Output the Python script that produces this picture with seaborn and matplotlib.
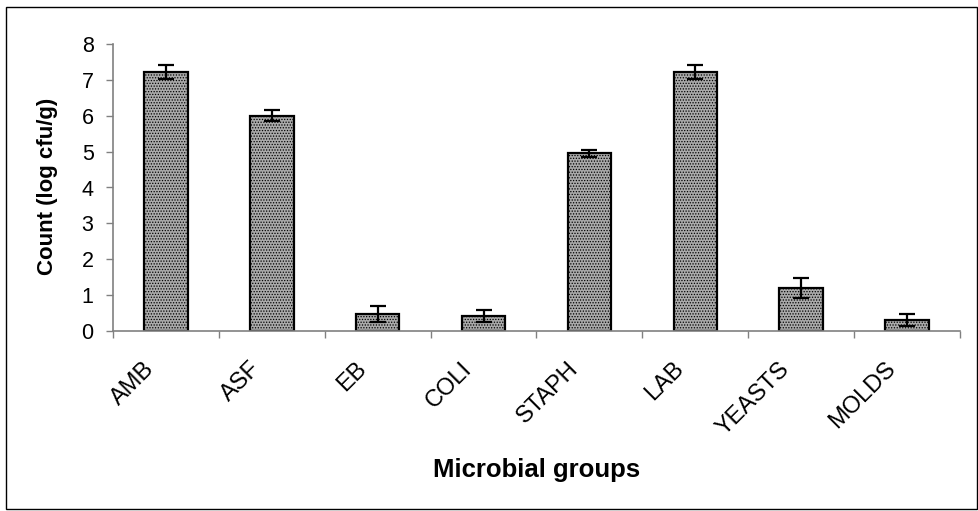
import matplotlib
matplotlib.use('Agg')
import matplotlib.pyplot as plt
import matplotlib.transforms as mtransforms
import seaborn as sns
import pandas as pd
from matplotlib.ticker import FixedLocator

groups = ['AMB', 'ASF', 'EB', 'COLI', 'STAPH', 'LAB', 'YEASTS', 'MOLDS']
counts = [7.22, 6.00, 0.47, 0.42, 4.95, 7.22, 1.20, 0.31]
errors = [0.20, 0.16, 0.22, 0.16, 0.10, 0.20, 0.27, 0.16]

df = pd.DataFrame({'group': groups, 'count': counts})

sns.set_style('white')
plt.rcParams['font.family'] = ['Liberation Sans', 'DejaVu Sans']
plt.rcParams['text.color'] = 'black'
plt.rcParams['axes.labelcolor'] = 'black'
plt.rcParams['xtick.labelcolor'] = 'black'
plt.rcParams['ytick.labelcolor'] = 'black'
plt.rcParams['hatch.linewidth'] = 0.6

fig = plt.figure(figsize=(9.79, 5.11), dpi=100)
ax = fig.add_axes([113/979, 1-331/511, (960-113)/979, (331-44)/511])

sns.barplot(data=df, x='group', y='count', ax=ax, width=0.41,
            color='#aaaaaa', edgecolor='black', linewidth=1.6, saturation=1)
for p in ax.patches:
    p.set_hatch('......')

ax.errorbar(range(len(groups)), counts, yerr=errors, fmt='none',
            ecolor='black', elinewidth=1.6, capsize=6, capthick=1.6)

ax.set_xlim(-0.5, len(groups) - 0.5)
ax.set_ylim(0, 8)
ax.set_yticks(range(0, 9))
ax.tick_params(axis='y', labelsize=15.5, length=5, width=1, color='#808080', left=True, pad=9)
ax.xaxis.set_minor_locator(FixedLocator([i - 0.5 for i in range(len(groups) + 1)]))
ax.tick_params(axis='x', which='major', length=0, labelsize=17, pad=25)
ax.tick_params(axis='x', which='minor', length=5, width=1, color='#808080', bottom=True)
shift = mtransforms.ScaledTranslation(-15/100, 0, fig.dpi_scale_trans)
for lab in ax.get_xticklabels():
    lab.set_rotation(45)
    lab.set_ha('right')
    lab.set_va('center')
    lab.set_rotation_mode('anchor')
    lab.set_transform(lab.get_transform() + shift)

for side in ['top', 'right']:
    ax.spines[side].set_visible(False)
for side in ['left', 'bottom']:
    ax.spines[side].set_color('#808080')
    ax.spines[side].set_linewidth(1.2)

ax.set_xlabel('Microbial groups', fontsize=18.5, fontweight='bold', va='center')
ax.xaxis.set_label_coords(0.5, (331-470)/287)
ax.set_ylabel('Count (log cfu/g)', fontsize=16, fontweight='bold', va='center')
ax.yaxis.set_label_coords((48-113)/847, (331-186)/287)

fig.add_artist(plt.Rectangle((6/979, 2/511), (977-6)/979, (509-7)/511,
                             transform=fig.transFigure, fill=False,
                             edgecolor='black', linewidth=1))

fig.savefig('out.png', dpi=100)
